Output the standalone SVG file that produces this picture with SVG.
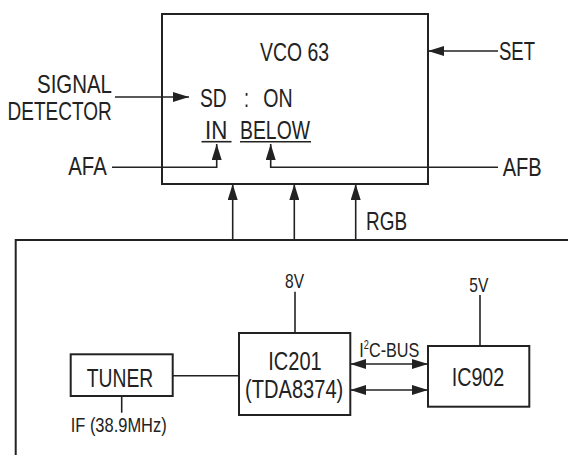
<svg xmlns="http://www.w3.org/2000/svg" width="568" height="455" viewBox="0 0 568 455">
<style>
.box{fill:#fff;stroke:#222;stroke-width:2}
.ln{fill:none;stroke:#222;stroke-width:1.6}
text{font-family:"Liberation Sans",Arial,sans-serif;fill:#222}
.t{font-size:25.5px}
.s{font-size:21px}
</style>
<defs>
<marker id="ah" markerUnits="userSpaceOnUse" markerWidth="16" markerHeight="10" refX="16" refY="5" orient="auto-start-reverse">
<path d="M0,0 L16,5 L0,10 z" fill="#222"/>
</marker>
</defs>
<rect width="568" height="455" fill="#fff"/>
<g id="vco">
<rect class="box" x="162" y="14" width="266" height="170"/>
<text class="t" x="260" y="61" textLength="69" lengthAdjust="spacingAndGlyphs">VCO 63</text>
<text class="t" x="200" y="106.5" textLength="26.7" lengthAdjust="spacingAndGlyphs">SD</text>
<text class="t" x="244" y="106.5" textLength="5" lengthAdjust="spacingAndGlyphs">:</text>
<text class="t" x="263.3" y="106.5" textLength="29.4" lengthAdjust="spacingAndGlyphs">ON</text>
<text class="t" x="205" y="139.3" textLength="22.3" lengthAdjust="spacingAndGlyphs">IN</text>
<text class="t" x="240" y="139.3" textLength="70" lengthAdjust="spacingAndGlyphs">BELOW</text>
<line class="ln" x1="201.5" y1="141.7" x2="231.5" y2="141.7"/>
<line class="ln" x1="240" y1="141.7" x2="311" y2="141.7"/>
</g>
<g id="labels">
<text class="t" x="499" y="60" textLength="36" lengthAdjust="spacingAndGlyphs">SET</text>
<text class="t" x="37" y="92.7" textLength="75" lengthAdjust="spacingAndGlyphs">SIGNAL</text>
<text class="t" x="7.5" y="119.7" textLength="104.2" lengthAdjust="spacingAndGlyphs">DETECTOR</text>
<text class="t" x="68.3" y="175" textLength="38.4" lengthAdjust="spacingAndGlyphs">AFA</text>
<text class="t" x="502.7" y="176" textLength="39" lengthAdjust="spacingAndGlyphs">AFB</text>
<text class="t" x="366" y="230" textLength="41" lengthAdjust="spacingAndGlyphs">RGB</text>
<text class="s" x="285" y="288.3" textLength="19" lengthAdjust="spacingAndGlyphs">8V</text>
<text class="s" x="469.3" y="292.3" textLength="19" lengthAdjust="spacingAndGlyphs">5V</text>
<text class="s" x="359.3" y="356.7" textLength="60" lengthAdjust="spacingAndGlyphs">I<tspan font-size="12" dy="-8">2</tspan><tspan dy="8">C-BUS</tspan></text>
<text class="s" x="70.7" y="431.7" textLength="96" lengthAdjust="spacingAndGlyphs">IF (38.9MHz)</text>
</g>
<g id="tuner">
<rect class="box" x="70.7" y="354.3" width="102" height="41.7"/>
<text class="t" x="86.7" y="386.7" textLength="66.6" lengthAdjust="spacingAndGlyphs">TUNER</text>
</g>
<g id="ic201">
<rect class="box" x="239" y="333" width="111.3" height="82"/>
<text class="t" x="268.3" y="370" textLength="53.4" lengthAdjust="spacingAndGlyphs">IC201</text>
<text class="t" x="245" y="398.3" textLength="98.3" lengthAdjust="spacingAndGlyphs">(TDA8374)</text>
</g>
<g id="ic902">
<rect class="box" x="428" y="346" width="101.3" height="60.7"/>
<text class="t" x="451.7" y="385.7" textLength="52.6" lengthAdjust="spacingAndGlyphs">IC902</text>
</g>
<g id="connectors">
<line class="ln" x1="115" y1="97" x2="189" y2="97" marker-end="url(#ah)"/>
<line class="ln" x1="498" y1="51" x2="428" y2="51" marker-end="url(#ah)"/>
<polyline class="ln" points="112,167.3 216.7,167.3 216.7,144" marker-end="url(#ah)"/>
<polyline class="ln" points="498,167.3 270.7,167.3 270.7,144" marker-end="url(#ah)"/>
<line class="ln" x1="232.7" y1="240" x2="232.7" y2="184" marker-end="url(#ah)"/>
<line class="ln" x1="294.3" y1="240" x2="294.3" y2="184" marker-end="url(#ah)"/>
<line class="ln" x1="355.7" y1="240" x2="355.7" y2="184" marker-end="url(#ah)"/>
<polyline class="ln" points="15.7,455 15.7,240 568,240" style="stroke-width:2"/>
<line class="ln" x1="295" y1="291.7" x2="295" y2="333"/>
<line class="ln" x1="480" y1="295" x2="480" y2="346"/>
<line class="ln" x1="172.7" y1="375.7" x2="239" y2="375.7"/>
<line class="ln" x1="121.7" y1="396" x2="121.7" y2="412.7"/>
<line class="ln" x1="350.3" y1="364" x2="428" y2="364" marker-start="url(#ah)" marker-end="url(#ah)"/>
<line class="ln" x1="350.3" y1="390" x2="428" y2="390" marker-start="url(#ah)" marker-end="url(#ah)"/>
</g>
</svg>
